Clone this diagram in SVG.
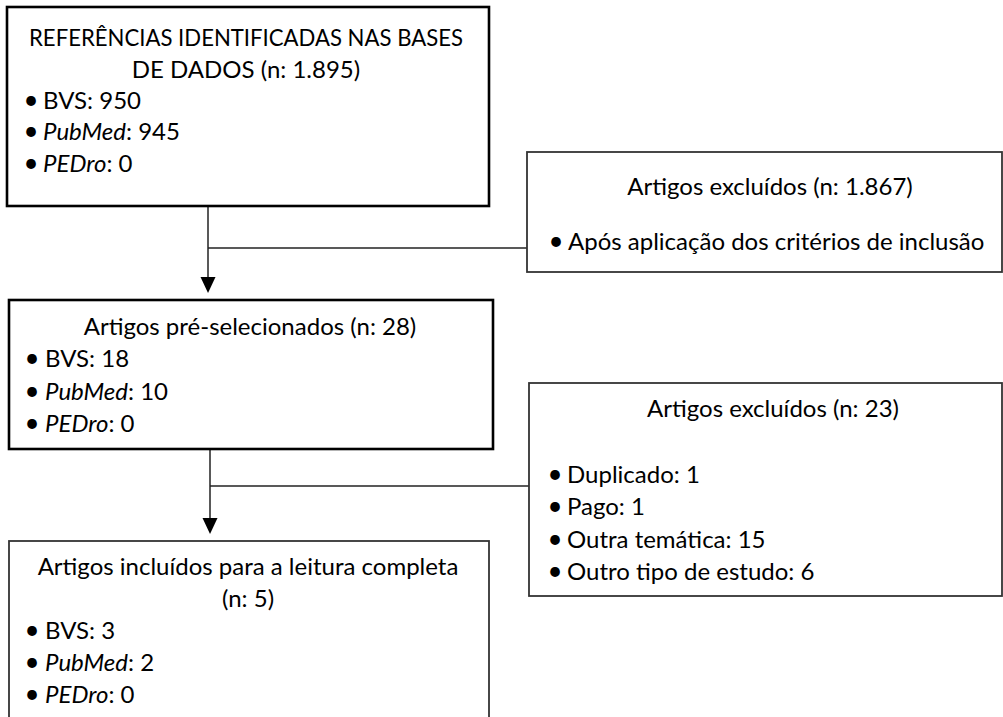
<svg xmlns="http://www.w3.org/2000/svg" width="1003" height="717" viewBox="0 0 1003 717">
<style>
.box{fill:#fff;stroke:#333;stroke-width:1.8}
.thick{stroke:#000;stroke-width:2.6}
.t{font-family:Lato,"Open Sans","Liberation Sans",sans-serif;font-size:24px;fill:#000}
.c{text-anchor:middle}
.b{font-family:Lato,"Open Sans","Liberation Sans",sans-serif;font-size:26px;fill:#000;text-anchor:middle}
.i{font-style:italic}
.ln{fill:none;stroke:#222;stroke-width:1.5}
.ah{fill:#000}
</style>
<g id="connectors">
<line class="ln" x1="208" y1="207" x2="208" y2="278"/>
<path class="ah" d="M200.5,277 L215.5,277 L208,293 Z"/>
<line class="ln" x1="208" y1="248" x2="527" y2="248"/>
<line class="ln" x1="210" y1="449" x2="210" y2="519"/>
<path class="ah" d="M202.5,518 L217.5,518 L210,534 Z"/>
<line class="ln" x1="210" y1="486" x2="529" y2="486"/>
</g>
<g id="refs">
<rect class="box thick" x="7" y="7" width="482" height="199"/>
<text class="t c" x="246" y="46" textLength="434" lengthAdjust="spacingAndGlyphs">REFERÊNCIAS IDENTIFICADAS NAS BASES</text>
<text class="t c" x="246" y="78">DE DADOS (n: 1.895)</text>
<text class="b" x="31" y="109">•</text><text class="t" x="43" y="109">BVS: 950</text>
<text class="b" x="31" y="140">•</text><text class="t" x="43" y="140"><tspan class="i">PubMed</tspan>: 945</text>
<text class="b" x="31" y="172">•</text><text class="t" x="43" y="172"><tspan class="i">PEDro</tspan>: 0</text>
</g>
<g id="excl1">
<rect class="box" x="527" y="152" width="475" height="120"/>
<text class="t c" x="770" y="195">Artigos excluídos (n: 1.867)</text>
<text class="b" x="556" y="250">•</text><text class="t" x="568" y="250">Após aplicação dos critérios de inclusão</text>
</g>
<g id="presel">
<rect class="box thick" x="9" y="300" width="484" height="149"/>
<text class="t c" x="250" y="335">Artigos pré-selecionados (n: 28)</text>
<text class="b" x="32" y="367">•</text><text class="t" x="45" y="367">BVS: 18</text>
<text class="b" x="32" y="400">•</text><text class="t" x="45" y="400"><tspan class="i">PubMed</tspan>: 10</text>
<text class="b" x="32" y="432">•</text><text class="t" x="45" y="432"><tspan class="i">PEDro</tspan>: 0</text>
</g>
<g id="excl2">
<rect class="box" x="529" y="383" width="473" height="213"/>
<text class="t c" x="773" y="417">Artigos excluídos (n: 23)</text>
<text class="b" x="555" y="483">•</text><text class="t" x="567" y="483">Duplicado: 1</text>
<text class="b" x="555" y="515">•</text><text class="t" x="567" y="515">Pago: 1</text>
<text class="b" x="555" y="548">•</text><text class="t" x="567" y="548">Outra temática: 15</text>
<text class="b" x="555" y="580">•</text><text class="t" x="567" y="580">Outro tipo de estudo: 6</text>
</g>
<g id="incl">
<rect class="box" x="9" y="541" width="480" height="200"/>
<text class="t c" x="248" y="575">Artigos incluídos para a leitura completa</text>
<text class="t c" x="248" y="607">(n: 5)</text>
<text class="b" x="32" y="639">•</text><text class="t" x="45" y="639">BVS: 3</text>
<text class="b" x="32" y="671">•</text><text class="t" x="45" y="671"><tspan class="i">PubMed</tspan>: 2</text>
<text class="b" x="32" y="703">•</text><text class="t" x="45" y="703"><tspan class="i">PEDro</tspan>: 0</text>
</g>
</svg>
